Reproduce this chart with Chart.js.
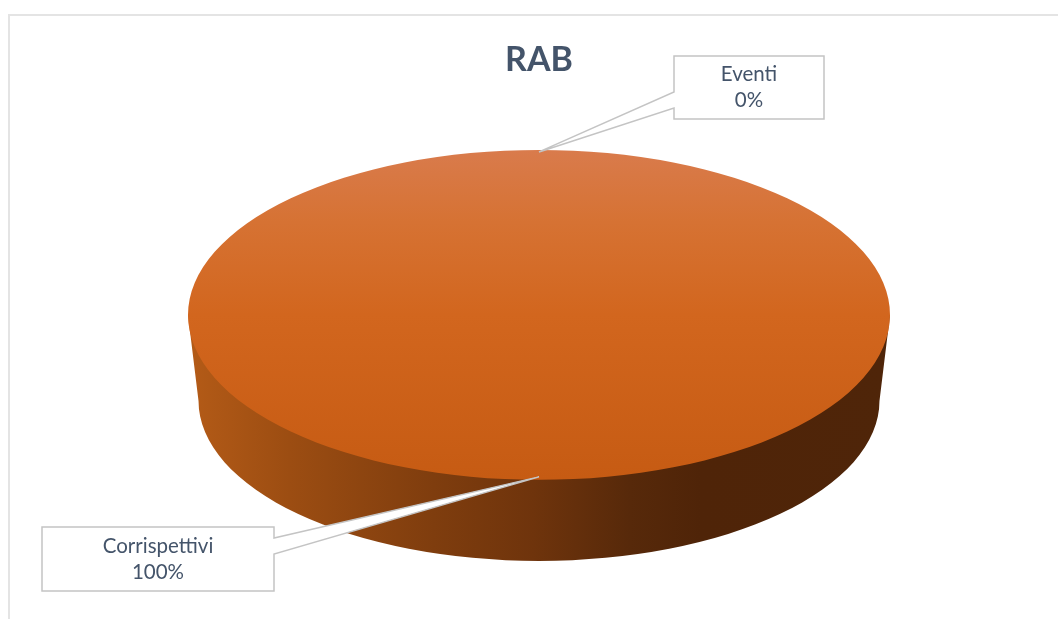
<!DOCTYPE html>
<html>
<head>
<meta charset="utf-8">
<title>RAB</title>
<script src="https://cdn.jsdelivr.net/npm/chart.js@4"></script>
<style>
    html, body { margin: 0; padding: 0; background: #fff; overflow: hidden; }
    canvas { display: block; }
</style>
</head>
<body>
<canvas id="rab-chart" width="1058" height="619"></canvas>
<script>
/* Chart data */
let chartTitle = 'RAB'
let categories = ['Corrispettivi', 'Eventi']
let values = [100, 0]

/* Callout boxes, same order as categories */
let calloutBoxes = [
    { left: 42, top: 527, right: 274, bottom: 591, wedgeY: [538, 554] },
    { left: 674, top: 56, right: 824, bottom: 119, wedgeY: [92, 108] }
]

let pieRadius = 351
let squash = 0.47       // flattens the circle into the ellipse
let wallDepth = 86
let wallShrink = 0.97   // bottom edge is a bit narrower, perspective
let textColor = '#44546A'
let calloutBorder = '#C4C4C4'

function topGradient(context) {
    let area = context.chart.chartArea
    if (!area) {
        return '#D2661E'
    }
    let cy = (area.top + area.bottom) / 2
    let gradient = context.chart.ctx.createLinearGradient(0, cy - pieRadius, 0, cy + pieRadius)
    gradient.addColorStop(0, '#D97B4C')
    gradient.addColorStop(0.22, '#D67233')
    gradient.addColorStop(0.5, '#D2661E')
    gradient.addColorStop(1, '#C65B13')
    return gradient
}

// Side of the pie, then squash everything the library draws for the top face
let pie3dPlugin = {
    id: 'pie3d',
    beforeDraw(chart) {
        let ctx = chart.ctx
        ctx.save()
        ctx.fillStyle = '#E4E4E4'
        ctx.fillRect(8, 14, 1050, 2)
        ctx.fillRect(8, 14, 2, 605)
        ctx.restore()
    },
    beforeDatasetsDraw(chart) {
        let ctx = chart.ctx
        let arc = chart.getDatasetMeta(0).data[0]
        let cx = arc.x
        let cy = arc.y
        let r = arc.outerRadius
        let bottomR = r * wallShrink
        let bottomY = cy + wallDepth

        let wall = ctx.createLinearGradient(cx - r, 0, cx + r, 0)
        wall.addColorStop(0, '#B45B17')
        wall.addColorStop(0.145, '#9C4D12')
        wall.addColorStop(0.35, '#7F3D0E')
        wall.addColorStop(0.49, '#6F340C')
        wall.addColorStop(0.63, '#57290A')
        wall.addColorStop(0.73, '#4F2408')
        wall.addColorStop(1, '#4F2509')

        ctx.save()
        ctx.fillStyle = wall
        ctx.beginPath()
        ctx.moveTo(cx - r, cy)
        ctx.lineTo(cx - bottomR, bottomY)
        ctx.ellipse(cx, bottomY, bottomR, bottomR * squash, 0, Math.PI, 0, true)
        ctx.lineTo(cx + r, cy)
        ctx.closePath()
        ctx.fill()
        ctx.restore()

        ctx.save()
        ctx.translate(cx, cy)
        ctx.scale(1, squash)
        ctx.translate(-cx, -cy)
    },
    afterDatasetsDraw(chart) {
        chart.ctx.restore()
        drawCallouts(chart)
    }
}

function drawCallouts(chart) {
    let ctx = chart.ctx
    let total = values.reduce(function(a, b) { return a + b }, 0)

    chart.getDatasetMeta(0).data.forEach(function(arc, i) {
        let box = calloutBoxes[i]
        let mid = (arc.startAngle + arc.endAngle) / 2
        let tipX = arc.x + Math.cos(mid) * arc.outerRadius
        let tipY = arc.y + Math.sin(mid) * arc.outerRadius * squash
        // tip sits just inside the rim of the top face
        tipY += i == 0 ? -3 : 2
        let side = tipX > box.right ? box.right : box.left

        ctx.save()
        ctx.fillStyle = '#fff'
        ctx.strokeStyle = calloutBorder
        ctx.lineWidth = 1.5
        ctx.lineJoin = 'miter'
        ctx.beginPath()
        ctx.moveTo(box.left, box.top)
        ctx.lineTo(box.right, box.top)
        if (side == box.right) {
            ctx.lineTo(box.right, box.wedgeY[0])
            ctx.lineTo(tipX, tipY)
            ctx.lineTo(box.right, box.wedgeY[1])
        }
        ctx.lineTo(box.right, box.bottom)
        ctx.lineTo(box.left, box.bottom)
        if (side == box.left) {
            ctx.lineTo(box.left, box.wedgeY[1])
            ctx.lineTo(tipX, tipY)
            ctx.lineTo(box.left, box.wedgeY[0])
        }
        ctx.closePath()
        ctx.fill()
        ctx.stroke()

        let percent = Math.round(values[i] / total * 100) + '%'
        let textX = (box.left + box.right) / 2
        let textY = (box.top + box.bottom) / 2
        ctx.fillStyle = textColor
        ctx.font = '20.5px Lato'
        ctx.textAlign = 'center'
        ctx.textBaseline = 'middle'
        ctx.fillText(categories[i], textX, textY - 13)
        ctx.fillText(percent, textX, textY + 13)
        ctx.restore()
    })
}

let ctx = document.querySelector('#rab-chart').getContext('2d')

let rabChart = new Chart(ctx, {
    type: 'pie',
    data: {
        labels: categories,
        datasets: [
            {
                data: values,
                backgroundColor: topGradient,
                borderWidth: 0,
                radius: pieRadius,
                clip: false
            }
        ]
    },
    options: {
        responsive: false,
        animation: false,
        events: [],
        radius: pieRadius,
        layout: {
            padding: { left: 20, bottom: 70 }
        },
        plugins: {
            legend: { display: false },
            tooltip: { enabled: false },
            title: {
                display: true,
                text: chartTitle,
                color: textColor,
                font: { family: 'Lato', size: 34, weight: 'bold' },
                padding: { top: 40, bottom: 0 }
            }
        }
    },
    plugins: [pie3dPlugin]
})
</script>
</body>
</html>
